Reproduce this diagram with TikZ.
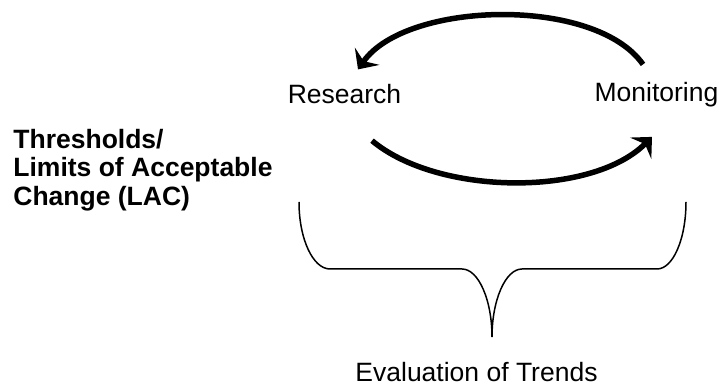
\documentclass[tikz,border=0pt]{standalone}
\usepackage{fontspec}
\setmainfont{Liberation Sans}
\usetikzlibrary{arrows.meta}

\begin{document}
\begin{tikzpicture}[x=0.5pt, y=0.5pt,
    every node/.style={inner sep=0pt, font=\fontsize{13.25}{14.25}\selectfont},
    cyc/.style={line width=2.75pt, -{Stealth[length=8pt,width=15pt,inset=3pt]}},
    brace/.style={line width=0.75pt}]

\useasboundingbox (0,0) rectangle (719,385);

% Labels
\node[anchor=base] (res) at (344.5,281) {Research};
\node[anchor=base] (mon) at (656.5,283) {Monitoring};
\node[anchor=west, align=left, font=\bfseries\fontsize{13.25}{14.25}\selectfont] (lac) at (13,215)
    {Thresholds/\\Limits of Acceptable\\Change (LAC)};
\node[anchor=base] (eval) at (476.5,3.5) {Evaluation of Trends};

% Monitoring back to research
\draw[cyc] ([shift={(-13.5,18)}]mon.north) to[out=125, in=55, looseness=0.75]
    ([shift={(13.5,15)}]res.north);

% Research on to monitoring
\draw[cyc] ([shift={(27.5,-36)}]res.south) to[out=-40, in=225, looseness=0.78]
    ([shift={(-4.5,-29)}]mon.south);

% Brace over the cycle
\coordinate (tip) at (492,48);
\draw[brace] (299,183) .. controls (299,146) and (313,116) .. (330,116) -- (462,116)
    .. controls (478.5,116) and (492,85) .. (tip)
    .. controls (492,85) and (505.5,116) .. (522,116) -- (657,116)
    .. controls (673,116) and (686,146) .. (686,183);

\end{tikzpicture}
\end{document}
